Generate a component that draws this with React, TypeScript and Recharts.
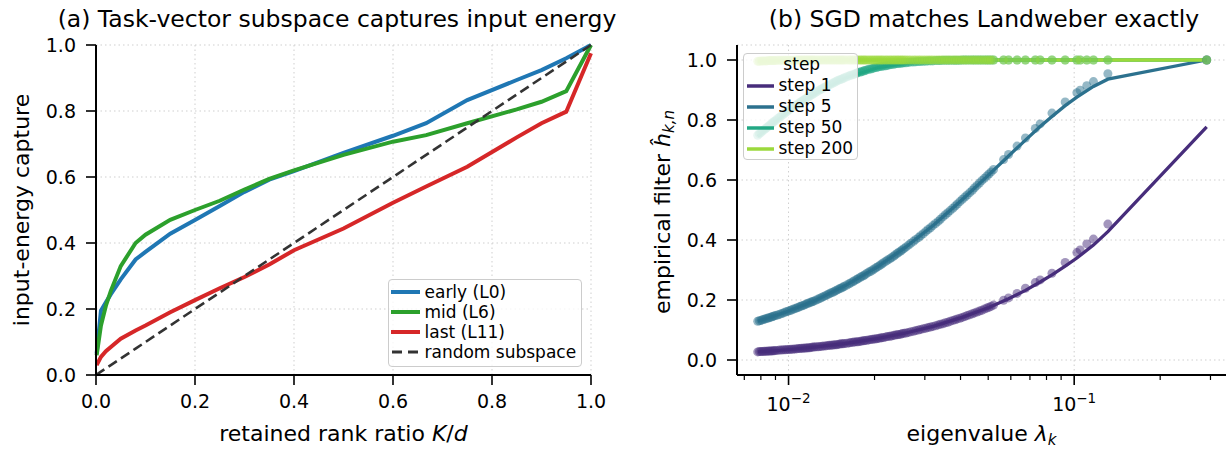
import React from 'react';
import { ComposedChart, Line, Scatter, XAxis, YAxis, CartesianGrid, Legend, ReferenceLine } from 'recharts';

const FONT = '"DejaVu Sans", "Liberation Sans", sans-serif';

// ---------- Panel (a) data ----------
const rankRatio = [0, 0.0013, 0.01, 0.02, 0.03, 0.05, 0.08, 0.1, 0.15, 0.2, 0.25, 0.3, 0.35, 0.4, 0.5, 0.6, 0.667, 0.75, 0.85, 0.9, 0.95, 1.0];
const earlyCapture = [null, 0.065, 0.195, 0.22, 0.245, 0.29, 0.35, 0.373, 0.428, 0.47, 0.512, 0.555, 0.592, 0.618, 0.673, 0.725, 0.763, 0.833, 0.894, 0.924, 0.96, 1.0];
const midCapture = [null, 0.06, 0.15, 0.21, 0.255, 0.33, 0.4, 0.425, 0.47, 0.5, 0.528, 0.562, 0.594, 0.62, 0.667, 0.707, 0.727, 0.763, 0.805, 0.828, 0.86, 1.0];
const lastCapture = [null, 0.03, 0.055, 0.072, 0.085, 0.11, 0.135, 0.15, 0.19, 0.227, 0.263, 0.297, 0.335, 0.378, 0.444, 0.522, 0.571, 0.631, 0.72, 0.763, 0.798, 0.975];
const randomCapture = [0, 0.0013, 0.01, 0.02, 0.03, 0.05, 0.08, 0.1, 0.15, 0.2, 0.25, 0.3, 0.35, 0.4, 0.5, 0.6, 0.667, 0.75, 0.85, 0.9, 0.95, 1.0];
const leftSeriesNames = ['early (L0)', 'mid (L6)', 'last (L11)', 'random subspace'];
const leftSeriesColors = ['#1f77b4', '#2ca02c', '#d62728', '#333333'];
const unitTicks = [0, 0.2, 0.4, 0.6, 0.8, 1.0];

// ---------- Panel (b) data ----------
const eigenvalues = [
  0.0078, 0.0079, 0.008, 0.0081, 0.0082, 0.0083, 0.0084, 0.0085, 0.0086, 0.0087,
  0.0088, 0.0089, 0.009, 0.00915, 0.0093, 0.00945, 0.0096, 0.00975, 0.0099, 0.01005,
  0.0102, 0.01035, 0.0105, 0.01065, 0.0108, 0.01095, 0.0111, 0.01125, 0.0114, 0.01155,
  0.0117, 0.01185, 0.012, 0.01215, 0.0123, 0.0125, 0.0127, 0.0129, 0.0131, 0.0133,
  0.0135, 0.0137, 0.0139, 0.0141, 0.0143, 0.0145, 0.0147, 0.0149, 0.0151, 0.0153,
  0.0155, 0.0157, 0.016, 0.0163, 0.0165, 0.0168, 0.017, 0.0173, 0.0175, 0.0178,
  0.018, 0.0183, 0.0185, 0.0188, 0.0191, 0.0194, 0.0197, 0.02, 0.0203, 0.0206,
  0.0209, 0.0212, 0.0215, 0.0219, 0.0222, 0.0226, 0.0229, 0.0233, 0.0236, 0.024,
  0.0243, 0.0247, 0.025, 0.0254, 0.0258,
  0.0263, 0.0268, 0.0274, 0.0279, 0.0285, 0.029, 0.0296, 0.0302, 0.0308, 0.0314,
  0.032, 0.0327, 0.0334, 0.034, 0.0347, 0.0354, 0.0361, 0.0368, 0.0376, 0.0383,
  0.039, 0.0398, 0.0406, 0.0414, 0.0422, 0.0431, 0.044, 0.0448, 0.0457, 0.0466,
  0.0475, 0.0485, 0.0494, 0.0503, 0.0512, 0.0522,
  0.0566, 0.0589, 0.0631, 0.0675, 0.0731, 0.076, 0.0836, 0.093, 0.1022, 0.1049,
  0.1107, 0.1168, 0.1312, 0.291];
const empStep1 = [
  0.027, 0.028, 0.028, 0.028, 0.029, 0.029, 0.029, 0.03, 0.03, 0.03,
  0.031, 0.031, 0.032, 0.032, 0.033, 0.033, 0.034, 0.034, 0.035, 0.035,
  0.036, 0.036, 0.037, 0.037, 0.038, 0.038, 0.039, 0.039, 0.04, 0.04,
  0.041, 0.041, 0.042, 0.043, 0.043, 0.044, 0.044, 0.045, 0.046, 0.047,
  0.047, 0.048, 0.049, 0.049, 0.05, 0.051, 0.051, 0.052, 0.053, 0.054,
  0.054, 0.055, 0.056, 0.057, 0.058, 0.059, 0.06, 0.061, 0.061, 0.062,
  0.063, 0.064, 0.065, 0.066, 0.067, 0.068, 0.069, 0.07, 0.071, 0.072,
  0.073, 0.074, 0.075, 0.077, 0.078, 0.079, 0.08, 0.082, 0.083, 0.084,
  0.085, 0.086, 0.088, 0.089, 0.09,
  0.092, 0.094, 0.096, 0.098, 0.1, 0.102, 0.104, 0.106, 0.108, 0.11,
  0.112, 0.114, 0.117, 0.119, 0.121, 0.124, 0.126, 0.129, 0.132, 0.134,
  0.137, 0.139, 0.142, 0.145, 0.148, 0.151, 0.154, 0.157, 0.16, 0.163,
  0.166, 0.17, 0.173, 0.176, 0.179, 0.183,
  0.199, 0.207, 0.222, 0.239, 0.258, 0.267, 0.289, 0.325, 0.358, 0.367,
  0.387, 0.403, 0.453, 1.0];
const empStep5 = [
  0.129, 0.131, 0.132, 0.134, 0.136, 0.137, 0.139, 0.14, 0.142, 0.143,
  0.145, 0.147, 0.148, 0.15, 0.152, 0.155, 0.157, 0.16, 0.162, 0.164,
  0.166, 0.169, 0.171, 0.173, 0.175, 0.178, 0.18, 0.182, 0.184, 0.187,
  0.189, 0.191, 0.193, 0.195, 0.197, 0.2, 0.203, 0.206, 0.209, 0.212,
  0.215, 0.218, 0.221, 0.224, 0.226, 0.229, 0.232, 0.235, 0.238, 0.24,
  0.243, 0.246, 0.25, 0.254, 0.257, 0.261, 0.264, 0.268, 0.271, 0.275,
  0.278, 0.281, 0.284, 0.289, 0.293, 0.296, 0.3, 0.304, 0.308, 0.312,
  0.316, 0.32, 0.324, 0.329, 0.333, 0.337, 0.341, 0.346, 0.35, 0.355,
  0.359, 0.363, 0.367, 0.372, 0.377,
  0.383, 0.389, 0.396, 0.402, 0.408, 0.414, 0.421, 0.428, 0.435, 0.441,
  0.448, 0.455, 0.462, 0.469, 0.477, 0.484, 0.491, 0.498, 0.506, 0.513,
  0.52, 0.528, 0.536, 0.543, 0.55, 0.558, 0.566, 0.574, 0.582, 0.59,
  0.598, 0.606, 0.613, 0.62, 0.627, 0.635,
  0.668, 0.685, 0.713, 0.74, 0.772, 0.787, 0.823, 0.86, 0.891, 0.899,
  0.914, 0.928, 0.954, 1.0];
const empStep50 = [
  0.749, 0.754, 0.758, 0.763, 0.767, 0.771, 0.775, 0.779, 0.783, 0.787,
  0.791, 0.795, 0.798, 0.804, 0.809, 0.814, 0.819, 0.824, 0.829, 0.834,
  0.838, 0.842, 0.846, 0.85, 0.854, 0.858, 0.862, 0.866, 0.869, 0.873,
  0.876, 0.88, 0.883, 0.886, 0.889, 0.893, 0.897, 0.901, 0.904, 0.908,
  0.911, 0.914, 0.917, 0.92, 0.923, 0.926, 0.929, 0.932, 0.934, 0.936,
  0.938, 0.941, 0.944, 0.947, 0.949, 0.951, 0.953, 0.956, 0.958, 0.96,
  0.961, 0.963, 0.965, 0.967, 0.969, 0.97, 0.972, 0.974, 0.975, 0.977,
  0.978, 0.979, 0.98, 0.981, 0.982, 0.984, 0.985, 0.986, 0.987, 0.988,
  0.988, 0.989, 0.99, 0.991, 0.991,
  0.992, 0.993, 0.993, 0.994, 0.995, 0.995, 0.996, 0.996, 0.997, 0.997,
  0.997, 0.998, 0.998, 0.998, 0.999, 0.999, 0.999, 0.999, 0.999, 0.999,
  0.999, 0.999, 1, 1, 1, 1, 1, 1, 1, 1,
  1, 1, 1, 1, 1, 1,
  1, 1, 1, 1, 1, 1, 1, 1, 1, 1,
  1, 1, 1, 1];
const empStep200 = [
  0.996, 0.996, 0.997, 0.997, 0.997, 0.997, 0.997, 0.998, 0.998, 0.998,
  0.998, 0.998, 0.998, 0.999, 0.999, 0.999, 0.999, 0.999, 0.999, 0.999,
  0.999, 0.999, 0.999, 1, 1, 1, 1, 1, 1, 1,
  1, 1, 1, 1, 1, 1, 1, 1, 1, 1,
  1, 1, 1, 1, 1, 1, 1, 1, 1, 1,
  1, 1, 1, 1, 1, 1, 1, 1, 1, 1,
  1, 1, 1, 1, 1, 1, 1, 1, 1, 1,
  1, 1, 1, 1, 1, 1, 1, 1, 1, 1,
  1, 1, 1, 1, 1,
  1, 1, 1, 1, 1, 1, 1, 1, 1, 1,
  1, 1, 1, 1, 1, 1, 1, 1, 1, 1,
  1, 1, 1, 1, 1, 1, 1, 1, 1, 1,
  1, 1, 1, 1, 1, 1,
  1, 1, 1, 1, 1, 1, 1, 1, 1, 1,
  1, 1, 1, 1];

const theoryLambda = [0.0078, 0.0098, 0.0123, 0.0158, 0.0206, 0.0257, 0.0323, 0.0405, 0.0503, 0.0589, 0.0675, 0.076, 0.0836, 0.093, 0.1022, 0.1168, 0.1312, 0.291];
const theoryStep1 = [0.027, 0.034, 0.043, 0.055, 0.072, 0.09, 0.113, 0.142, 0.175, 0.204, 0.232, 0.26, 0.284, 0.313, 0.34, 0.383, 0.428, 0.777];
const theoryStep5 = [0.129, 0.16, 0.197, 0.248, 0.312, 0.376, 0.451, 0.534, 0.618, 0.68, 0.733, 0.778, 0.812, 0.848, 0.876, 0.912, 0.936, 1.0];
const theoryStep50 = [0.745, 0.822, 0.886, 0.94, 0.975, 0.99, 0.997, 0.999, 1.0, 1.0, 1.0, 1.0, 1.0, 1.0, 1.0, 1.0, 1.0, 1.0];
const theoryStep200 = [0.996, 0.999, 1.0, 1.0, 1.0, 1.0, 1.0, 1.0, 1.0, 1.0, 1.0, 1.0, 1.0, 1.0, 1.0, 1.0, 1.0, 1.0];

const stepNames = ['step 1', 'step 5', 'step 50', 'step 200'];
const stepColors = ['#472d7b', '#2c718e', '#22a884', '#9bd93c'];
const legendTitleRight = 'step';
const lambdaTicks = [0.007, 0.008, 0.009, 0.01, 0.02, 0.03, 0.04, 0.05, 0.06, 0.07, 0.08, 0.09, 0.1, 0.2, 0.3];
const lambdaMajorTicks = [0.01, 0.1];
const lambdaMajorExponents = ['\u22122', '\u22121'];

// ---------- assembled tables ----------
const leftRows = rankRatio.map((x, i) => ({
  x,
  early: earlyCapture[i],
  mid: midCapture[i],
  last: lastCapture[i],
  random: randomCapture[i],
}));
const empSeries = [empStep1, empStep5, empStep50, empStep200].map((vals) =>
  eigenvalues.map((lam, i) => ({ lam, h: vals[i] }))
);
const theorySeries = [theoryStep1, theoryStep5, theoryStep50, theoryStep200].map((vals) =>
  theoryLambda.map((lam, i) => ({ lam, h: vals[i] }))
);

const TICK_SIZE = 10;
const X_TICK_MARGIN = 10;
const tickStyle = { fill: '#000', fontSize: 19, fontFamily: FONT };
const axisLineStyle = { stroke: '#000', strokeWidth: 2 };
const tickLineStyle = { stroke: '#000', strokeWidth: 1.6 };
const GRID_COLOR = '#cfcfcf';
const GRID_DASH = '1.5 3';

const LeftLegendContent = () => (
  <div style={{
    boxSizing: 'border-box', width: 194, height: 88, border: '1.5px solid #cccccc', borderRadius: 4,
    background: 'rgba(255,255,255,0.8)', padding: '1.5px 0 0 1.5px', fontFamily: FONT, fontSize: 17, color: '#000',
  }}>
    {leftSeriesNames.map((name, i) => (
      <div key={name} style={{ display: 'flex', alignItems: 'center', height: 20, lineHeight: '20px', whiteSpace: 'nowrap' }}>
        <svg width={29} height={6} style={{ marginRight: 5, flex: 'none' }}>
          {i < 3 ? (
            <line x1={0} x2={29} y1={3} y2={3} stroke={leftSeriesColors[i]} strokeWidth={4} />
          ) : (
            <line x1={1} x2={29} y1={3} y2={3} stroke={leftSeriesColors[i]} strokeWidth={3} strokeDasharray="10 6" />
          )}
        </svg>
        <span>{name}</span>
      </div>
    ))}
  </div>
);

const RightLegendContent = () => (
  <div style={{
    boxSizing: 'border-box', width: 115, height: 107, border: '1.5px solid #cccccc', borderRadius: 4,
    background: 'rgba(255,255,255,0.8)', padding: '0 0 0 2.5px', fontFamily: FONT, fontSize: 17, color: '#000',
  }}>
    <div style={{ height: 21, lineHeight: '21px', textAlign: 'center' }}>{legendTitleRight}</div>
    {stepNames.map((name, i) => (
      <div key={name} style={{ display: 'flex', alignItems: 'center', height: 21, lineHeight: '21px', whiteSpace: 'nowrap' }}>
        <svg width={27} height={6} style={{ marginRight: 5, flex: 'none' }}>
          <line x1={0} x2={27} y1={3} y2={3} stroke={stepColors[i]} strokeWidth={3.5} />
        </svg>
        <span>{name}</span>
      </div>
    ))}
  </div>
);

const LogTick = (props: any) => {
  const { x, y, payload } = props;
  const v = payload.value;
  const mi = lambdaMajorTicks.findIndex((m) => Math.abs(m - v) < 1e-9);
  const major = mi >= 0;
  const axisY = y - TICK_SIZE - X_TICK_MARGIN;
  return (
    <g>
      <line x1={x} x2={x} y1={axisY} y2={axisY + (major ? 10 : 5)} stroke="#000" strokeWidth={major ? 1.6 : 1.2} />
      {major && (
        <text x={x} y={axisY + 36} textAnchor="middle" fontSize={19} fontFamily={FONT} fill="#000">
          10<tspan dy={-8} fontSize={13.5}>{lambdaMajorExponents[mi]}</tspan>
        </text>
      )}
    </g>
  );
};

const dotShape = (color: string) => (p: any) => (
  <circle cx={p.cx} cy={p.cy} r={4.5} fill={color} fillOpacity={0.5} stroke="none" />
);

const LeftChart = () => (
  <ComposedChart width={620} height={451} data={leftRows} margin={{ top: 45, right: 29, bottom: 0, left: 0 }}>
    <CartesianGrid stroke={GRID_COLOR} strokeDasharray={GRID_DASH} />
    <XAxis dataKey="x" type="number" domain={[0, 1]} ticks={unitTicks} interval={0}
      tickFormatter={(v: number) => v.toFixed(1)} height={76} tickSize={TICK_SIZE} tickMargin={X_TICK_MARGIN}
      tick={tickStyle} axisLine={axisLineStyle} tickLine={tickLineStyle} />
    <YAxis type="number" domain={[0, 1]} ticks={unitTicks} interval={0}
      tickFormatter={(v: number) => v.toFixed(1)} width={96} tickSize={TICK_SIZE} tickMargin={10}
      tick={tickStyle} axisLine={axisLineStyle} tickLine={tickLineStyle} />
    <Line dataKey="early" stroke={leftSeriesColors[0]} strokeWidth={4} dot={false} isAnimationActive={false} />
    <Line dataKey="mid" stroke={leftSeriesColors[1]} strokeWidth={4} dot={false} isAnimationActive={false} />
    <Line dataKey="last" stroke={leftSeriesColors[2]} strokeWidth={4} dot={false} isAnimationActive={false} />
    <Line dataKey="random" stroke={leftSeriesColors[3]} strokeWidth={2.6} strokeDasharray="10 5" dot={false} isAnimationActive={false} />
    <Legend layout="vertical" align="center" verticalAlign="middle" content={<LeftLegendContent />}
      wrapperStyle={{ left: 388, top: 279, width: 194, height: 88 }} />
  </ComposedChart>
);

const RightChart = () => (
  <ComposedChart width={610} height={451} margin={{ top: 45, right: 4, bottom: 0, left: 0 }}>
    <CartesianGrid stroke={GRID_COLOR} strokeDasharray={GRID_DASH} vertical={false} />
    {lambdaMajorTicks.map((t) => (
      <ReferenceLine key={t} x={t} stroke={GRID_COLOR} strokeDasharray={GRID_DASH} />
    ))}
    <XAxis dataKey="lam" type="number" scale="log" domain={[0.0066, 0.34]} allowDataOverflow
      ticks={lambdaTicks} interval={0} height={76} tickSize={TICK_SIZE} tickMargin={X_TICK_MARGIN}
      tick={<LogTick />} axisLine={axisLineStyle} tickLine={false} />
    <YAxis type="number" domain={[-0.05, 1.05]} ticks={unitTicks} interval={0}
      tickFormatter={(v: number) => v.toFixed(1)} width={117} tickSize={TICK_SIZE} tickMargin={10}
      tick={tickStyle} axisLine={axisLineStyle} tickLine={tickLineStyle} />
    {stepNames.map((name, i) => [
      <Scatter key={name + '-emp'} data={empSeries[i]} dataKey="h" shape={dotShape(stepColors[i])} isAnimationActive={false} />,
      <Line key={name + '-th'} data={theorySeries[i]} dataKey="h" stroke={stepColors[i]} strokeWidth={3.3} dot={false} isAnimationActive={false} />,
    ])}
    <Legend layout="vertical" align="center" verticalAlign="middle" content={<RightLegendContent />}
      wrapperStyle={{ left: 123, top: 53, width: 115, height: 107 }} />
  </ComposedChart>
);

export default function App() {
  return (
    <div style={{ position: 'absolute', left: 0, top: 0, width: 1230, height: 451, background: '#fff', overflow: 'hidden' }}>
      <div style={{ position: 'absolute', left: 0, top: 0 }}><LeftChart /></div>
      <div style={{ position: 'absolute', left: 620, top: 0 }}><RightChart /></div>
      <svg width={1230} height={451} style={{ position: 'absolute', left: 0, top: 0, pointerEvents: 'none' }}
        fontFamily={FONT} fill="#000">
        <text x={337} y={27} textAnchor="middle" fontSize={23.5}>(a) Task-vector subspace captures input energy</text>
        <text x={984} y={27} textAnchor="middle" fontSize={23.5}>(b) SGD matches Landweber exactly</text>
        <text x={343.5} y={441} textAnchor="middle" fontSize={22}>
          retained rank ratio <tspan fontStyle="italic">K</tspan>/<tspan fontStyle="italic">d</tspan>
        </text>
        <text x={981.5} y={441} textAnchor="middle" fontSize={22}>
          eigenvalue <tspan fontStyle="italic">λ</tspan><tspan fontStyle="italic" fontSize={15} dy={4}>k</tspan>
        </text>
        <text transform="translate(28.5,210) rotate(-90)" textAnchor="middle" fontSize={22}>input-energy capture</text>
        <text transform="translate(670,212) rotate(-90)" textAnchor="middle" fontSize={22}>
          empirical filter <tspan fontStyle="italic">ĥ</tspan><tspan fontStyle="italic" fontSize={15} dy={4}>k,n</tspan>
        </text>
      </svg>
    </div>
  );
}
